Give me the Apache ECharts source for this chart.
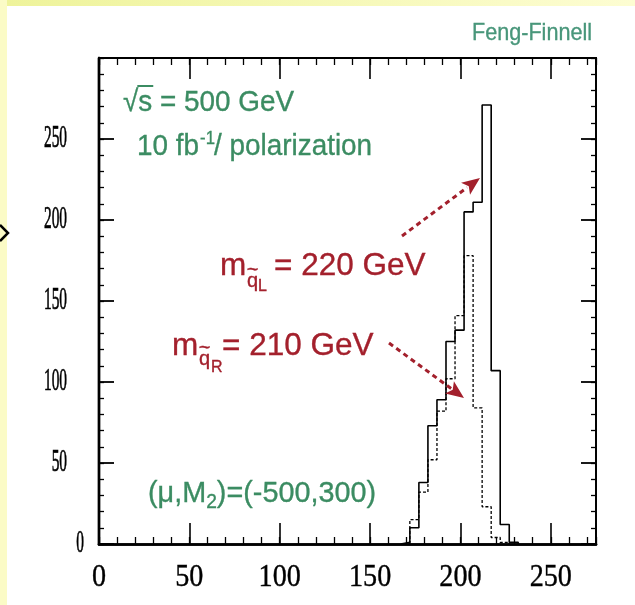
<!DOCTYPE html>
<html><head><meta charset="utf-8">
<script src="https://cdn.jsdelivr.net/npm/echarts@6/dist/echarts.min.js"></script>
<style>html,body{margin:0;padding:0;background:#fff}#c{width:635px;height:605px}</style>
</head><body><div id="c"></div>
<script>
// ---- data ----
const binEdges = [167,172,177,182,187,192,197,202,207,212,217,222,227,232];
const countsL  = [1,10,38,73,89,125,132,205,211,271,107,12,1];   // solid, m(qL)=220 GeV
const countsR  = [0,15,32,52,82,102,141,178,84,23,4,1,0];        // dashed, m(qR)=210 GeV
const xTickLabels = [0,50,100,150,200,250];
const yTickLabels = [0,50,100,150,200,250];

function stepPoints(edges, counts){
  let a=0,b=counts.length-1;
  while(a<=b && counts[a]===0) a++;
  while(b>=a && counts[b]===0) b--;
  const pts=[[edges[a],0]];
  for(let i=a;i<=b;i++) pts.push([edges[i],counts[i]]);
  pts.push([edges[b+1],0]);
  return pts;
}

const chart = echarts.init(document.getElementById('c'), null, {renderer:'canvas'});

function xAx(pos, interval, len, w){
  return {type:'value', min:0, max:275, interval:interval, position:pos,
    axisLine:{show:true, onZero:false, lineStyle:{color:'#000', width: pos==='bottom'?2.6:2}},
    axisTick:{show:true, inside:true, length:len, lineStyle:{color:'#000', width:w}},
    axisLabel:{show:false}, splitLine:{show:false}};
}
function yAx(pos, interval, len, w){
  return {type:'value', min:0, max:300, interval:interval, position:pos,
    axisLine:{show:true, onZero:false, lineStyle:{color:'#000', width: pos==='left'?2.4:1.8}},
    axisTick:{show:true, inside:true, length:len, lineStyle:{color:'#000', width:w}},
    axisLabel:{show:false}, splitLine:{show:false}};
}

chart.setOption({
  animation:false,
  backgroundColor:'#ffffff',
  grid:{left:99, top:58, right:39, bottom:61, containLabel:false},
  xAxis:[xAx('bottom',10,7,1.3), xAx('bottom',50,21,1.6), xAx('top',10,7,1.3), xAx('top',50,21,1.6)],
  yAxis:[yAx('left',10,5,1.3), yAx('left',50,15,1.8), yAx('right',10,5,1.3), yAx('right',50,15,1.8)],
  series:[
    {type:'line', name:'qR', xAxisIndex:0, yAxisIndex:0, data:stepPoints(binEdges,countsR), step:'end',
     symbol:'none', showSymbol:false, silent:true, z:3, lineStyle:{color:'#000', width:1.3, type:[3,2]}},
    {type:'line', name:'qL', xAxisIndex:0, yAxisIndex:0, data:stepPoints(binEdges,countsL), step:'end',
     symbol:'none', showSymbol:false, silent:true, z:4, lineStyle:{color:'#000', width:1.6}}
  ]
});

// ---- annotations ----
const ctx = document.createElement('canvas').getContext('2d');
function fnt(s, fam){ return s+'px ' + (fam || '"Liberation Sans", Arial, sans-serif'); }
function txt(x, y, t, size, color, align, extra){
  const f = fnt(size, extra && extra.fam);
  const o = {type:'text', x:x, y:y, z:50, silent:true,
    style:{text:t, font:f, fill:color, align:align||'left', verticalAlign:'middle',
           textAlign:align||'left', textVerticalAlign:'middle',
           stroke: color, lineWidth: (extra && extra.sw!=null) ? extra.sw : 0.35}};
  if (extra && extra.scaleX) o.scaleX = extra.scaleX;
  return o;
}
// baseline-based runs: parts [text,size,dy,dx]; sx = horizontal squeeze
function runs(x, base, parts, color, out, sx){
  sx = sx || 1;
  let cx = x; const pos=[];
  for (const p of parts){
    const t=p[0], s=p[1], dy=p[2]||0, dx=p[3]||0;
    cx += dx;
    ctx.font = fnt(s);
    const w = ctx.measureText(t).width*sx;
    out.push(txt(cx, base+dy-0.35*s, t, s, color, 'left', {scaleX:sx}));
    pos.push([cx, cx+w]);
    cx += w;
  }
  return pos;
}
const GREEN = '#3b8c62', TEAL='#48967a', RED = '#a3202c';
const els = [];
// background decorations
els.push({type:'rect', z:0, silent:true, shape:{x:0,y:0,width:635,height:6},
  style:{fill:new echarts.graphic.LinearGradient(0,0,1,0,[{offset:0,color:'#eef39a'},{offset:1,color:'#fdfdd2'}])}});
els.push({type:'rect', z:0, silent:true, shape:{x:0,y:0,width:7,height:605}, style:{fill:'#fbfbc6'}});
els.push({type:'polyline', z:50, silent:true, shape:{points:[[0,225],[8,233],[0,241]]}, style:{stroke:'#000', lineWidth:2.5, fill:null}});

runs(472, 42, [['Feng-Finnell',24]], TEAL, els, 0.9);
const p1 = runs(123, 113, [['√',30],['s = 500 GeV',30]], GREEN, els, 0.93);
ctx.font = fnt(30); const sW = ctx.measureText('s').width*0.93;
els.push({type:'line', z:50, silent:true, shape:{x1:p1[0][1]-1, y1:86, x2:p1[1][0]+sW+1, y2:86}, style:{stroke:GREEN, lineWidth:2}});
runs(137, 157, [['10 fb',30],['-1',18,-12,1],['/ polarization',30,0,-1]], GREEN, els, 0.93);
runs(148, 504, [['(μ,M',30],['2',20,5,0],[')=(-500,300)',30,0,0]], GREEN, els, 0.96);

// m_{q~L} = 220 GeV
runs(220, 277, [['m',31.5]], RED, els);
runs(247, 288, [['q',20]], RED, els);
els.push(txt(252.5, 270, '~', 20, RED, 'center'));
runs(258, 292, [['L',16]], RED, els);
runs(274, 277, [['= 220 GeV',31.5]], RED, els);
// m_{q~R} = 210 GeV
runs(172, 357, [['m',31.5]], RED, els);
runs(199, 366, [['q',20]], RED, els);
els.push(txt(204.5, 348, '~', 20, RED, 'center'));
runs(211, 373, [['R',16]], RED, els);
runs(222, 357, [['= 210 GeV',31.5]], RED, els);

function arrow(x1,y1,x2,y2){
  const dx=x2-x1, dy=y2-y1, L=Math.hypot(dx,dy), ux=dx/L, uy=dy/L;
  const hl=18, hw=7.5;
  const bx=x2-ux*hl, by=y2-uy*hl;
  els.push({type:'line', z:45, silent:true, shape:{x1:x1,y1:y1,x2:bx+ux*2,y2:by+uy*2}, style:{stroke:RED, lineWidth:3, lineDash:[5,4]}});
  els.push({type:'polygon', z:45, silent:true, shape:{points:[[x2,y2],[bx-uy*hw,by+ux*hw],[bx+ux*4,by+uy*4],[bx+uy*hw,by-ux*hw]]}, style:{fill:RED}});
}
arrow(402,236,480,178);
arrow(389,343,464,398);

// tick labels positioned through the axes' scales
xTickLabels.forEach(v=>{
  const px = chart.convertToPixel({xAxisIndex:0}, v);
  els.push(txt(px, 578, String(v), 32, '#000', 'center', {fam:'"Liberation Serif", "Times New Roman", serif', scaleX:0.88, sw:0.4}));
});
yTickLabels.forEach(v=>{
  const py = chart.convertToPixel({yAxisIndex:0}, v);
  const rx = v===0 ? 84 : 67;
  els.push(txt(rx, py, String(v), 32, '#000', 'right', {fam:'"Liberation Serif", "Times New Roman", serif', scaleX:0.48, sw:0.7}));
});

chart.setOption({graphic:{elements:els}});
</script></body></html>
